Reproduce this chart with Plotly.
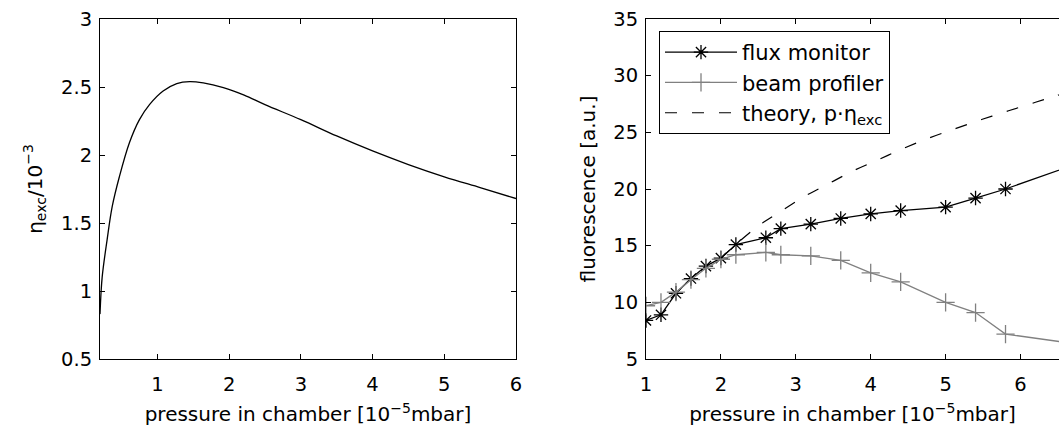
import plotly.graph_objects as go

# ---- left panel: excitation efficiency eta_exc (in 1e-3) vs pressure ----
p_eta = [0.2, 0.23, 0.3, 0.37, 0.47, 0.61, 0.75, 0.89, 1.08, 1.27, 1.45, 1.64,
         1.92, 2.21, 2.5, 3.0, 3.5, 4.0, 4.5, 5.0, 5.5, 6.0]
eta_exc = [0.83, 1.10, 1.38, 1.62, 1.84, 2.09, 2.26, 2.37, 2.47, 2.525, 2.54, 2.53,
           2.495, 2.44, 2.37, 2.26, 2.14, 2.03, 1.93, 1.84, 1.76, 1.68]

# ---- right panel: fluorescence vs pressure ----
pressure = [1.0, 1.2, 1.4, 1.6, 1.8, 2.0, 2.2, 2.6, 2.8, 3.2, 3.6, 4.0, 4.4, 5.0, 5.4, 5.8, 7.0]
flux_monitor = [8.4, 8.9, 10.8, 12.1, 13.2, 13.9, 15.1, 15.7, 16.5, 16.9, 17.4, 17.8,
                18.1, 18.4, 19.2, 20.0, 22.8]
beam_profiler = [9.7, 10.0, 10.9, 12.0, 13.0, 13.8, 14.2, 14.4, 14.2, 14.1, 13.7, 12.6,
                 11.8, 10.0, 9.1, 7.2, 6.1]
p_theory = [2.0, 2.46, 2.78, 3.09, 3.42, 3.75, 4.09, 4.41, 4.78, 5.14, 5.49, 5.84, 6.2, 6.46, 7.0]
theory = [13.9, 16.55, 17.95, 19.25, 20.4, 21.55, 22.55, 23.5, 24.5, 25.35, 26.15, 26.9,
          27.65, 28.2, 29.3]

left_xticks = [1, 2, 3, 4, 5, 6]
right_xticks = [1, 2, 3, 4, 5, 6]

W, H = 1059, 426
FONT = "DejaVu Sans"

fig = go.Figure()

fig.add_trace(go.Scatter(
    x=p_eta, y=eta_exc, mode="lines", showlegend=False,
    line=dict(color="black", width=1.3, shape="spline"),
    xaxis="x", yaxis="y"))

fig.add_trace(go.Scatter(
    x=pressure, y=flux_monitor, mode="lines+markers", name="flux monitor",
    line=dict(color="black", width=1.3),
    marker=dict(symbol="asterisk-open", size=12, color="black",
                line=dict(color="black", width=1.3)),
    xaxis="x2", yaxis="y2"))

fig.add_trace(go.Scatter(
    x=pressure, y=beam_profiler, mode="lines+markers", name="beam profiler",
    line=dict(color="#808080", width=1.3),
    marker=dict(symbol="cross-thin-open", size=13, color="#808080",
                line=dict(color="#808080", width=1.3)),
    xaxis="x2", yaxis="y2"))

fig.add_trace(go.Scatter(
    x=p_theory, y=theory, mode="lines", name="theory, p·η<sub>exc</sub>",
    line=dict(color="black", width=1.2, dash="12px,15px", shape="spline"),
    xaxis="x2", yaxis="y2"))

axis_common = dict(showgrid=False, zeroline=False, showline=True, linecolor="black",
                   linewidth=1, ticks="inside", ticklen=5, tickwidth=1,
                   tickcolor="black", automargin=False,
                   tickfont=dict(family=FONT, size=19.5, color="black"))

ydom = [67 / H, 407 / H]
xtitle = "pressure in chamber [10<sup>−5</sup>mbar]"

fig.update_layout(
    width=W, height=H,
    margin=dict(l=0, r=0, t=0, b=0),
    paper_bgcolor="white", plot_bgcolor="white",
    font=dict(family=FONT, size=20, color="black"),
    xaxis=dict(axis_common, domain=[100 / W, 516 / W], range=[0.2, 6],
               tickvals=left_xticks, mirror="ticks", ticklabelstandoff=8,
               title=dict(text=xtitle, font=dict(family=FONT, size=20), standoff=16)),
    yaxis=dict(axis_common, domain=ydom, range=[0.5, 3], dtick=0.5,
               mirror="ticks", ticklabelstandoff=3,
               title=dict(text="η<sub>exc</sub>/10<sup>−3</sup>",
                          font=dict(family=FONT, size=20), standoff=13)),
    xaxis2=dict(axis_common, domain=[646 / W, 1.0], range=[1, 1 + 413 / 74.9],
                tickvals=right_xticks, mirror="ticks", ticklabelstandoff=8,
                anchor="y2",
                title=dict(text=xtitle, font=dict(family=FONT, size=20), standoff=16)),
    yaxis2=dict(axis_common, domain=ydom, range=[5, 35], dtick=5,
                mirror=False, anchor="x2", ticklabelstandoff=3,
                title=dict(text="fluorescence [a.u.]",
                           font=dict(family=FONT, size=20), standoff=12)),
    legend=dict(x=659 / W, y=1 - 31 / H, xanchor="left", yanchor="top",
                bgcolor="white", bordercolor="black", borderwidth=1,
                itemwidth=72, font=dict(family=FONT, size=21, color="black"),
                tracegroupgap=0),
)

fig.write_html("out.html", config={"displayModeBar": False},
               post_script="document.body.style.margin='0';document.body.style.overflow='hidden';")
